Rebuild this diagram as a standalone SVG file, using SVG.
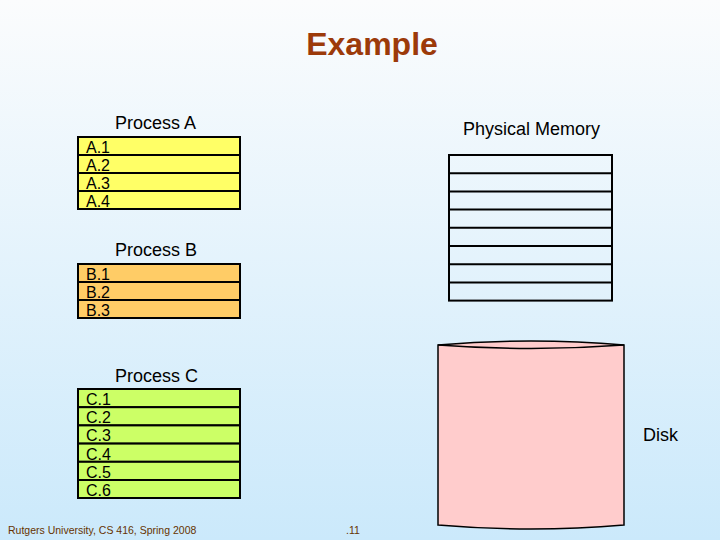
<svg xmlns="http://www.w3.org/2000/svg" width="720" height="540" viewBox="0 0 720 540">
<defs>
<linearGradient id="bg" x1="0" y1="0" x2="0" y2="1">
<stop offset="0" stop-color="#fbfcfd"/>
<stop offset="1" stop-color="#cbe9fb"/>
</linearGradient>
<style>
.row{stroke:#000;stroke-width:2}
.a{fill:#ffff66}
.b{fill:#ffcc66}
.c{fill:#ccff66}
.m{fill:none}
.lbl{font-family:"Liberation Sans",Arial,sans-serif;font-size:16px;fill:#000}
.hd{font-family:"Liberation Sans",Arial,sans-serif;font-size:18px;fill:#000}
.ft{font-family:"Liberation Sans",Arial,sans-serif;font-size:10.5px;fill:#663300}
</style>
</defs>
<rect width="720" height="540" fill="url(#bg)"/>
<text x="372" y="55" text-anchor="middle" font-family="Liberation Sans,Arial,sans-serif" font-size="32" font-weight="bold" fill="#9c3a0a">Example</text>

<g id="processA">
<text class="hd" x="115" y="129">Process A</text>
<rect class="row a" x="78" y="137" width="162" height="18"/>
<rect class="row a" x="78" y="155" width="162" height="18"/>
<rect class="row a" x="78" y="173" width="162" height="18"/>
<rect class="row a" x="78" y="191" width="162" height="18"/>
<text class="lbl" x="86" y="153">A.1</text>
<text class="lbl" x="86" y="171">A.2</text>
<text class="lbl" x="86" y="189">A.3</text>
<text class="lbl" x="86" y="207">A.4</text>
</g>

<g id="processB">
<text class="hd" x="115" y="256">Process B</text>
<rect class="row b" x="78" y="264" width="162" height="18"/>
<rect class="row b" x="78" y="282" width="162" height="18"/>
<rect class="row b" x="78" y="300" width="162" height="18"/>
<text class="lbl" x="86" y="280">B.1</text>
<text class="lbl" x="86" y="298">B.2</text>
<text class="lbl" x="86" y="316">B.3</text>
</g>

<g id="processC">
<text class="hd" x="115" y="382">Process C</text>
<rect class="row c" x="78" y="389" width="162" height="18.2"/>
<rect class="row c" x="78" y="407.2" width="162" height="18.2"/>
<rect class="row c" x="78" y="425.4" width="162" height="18.2"/>
<rect class="row c" x="78" y="443.6" width="162" height="18.2"/>
<rect class="row c" x="78" y="461.8" width="162" height="18.2"/>
<rect class="row c" x="78" y="480" width="162" height="18"/>
<text class="lbl" x="86" y="405">C.1</text>
<text class="lbl" x="86" y="423">C.2</text>
<text class="lbl" x="86" y="441">C.3</text>
<text class="lbl" x="86" y="460">C.4</text>
<text class="lbl" x="86" y="478">C.5</text>
<text class="lbl" x="86" y="496">C.6</text>
</g>

<g id="physicalMemory">
<text class="hd" x="463" y="135">Physical Memory</text>
<rect class="row m" x="449" y="155" width="163" height="145.6"/>
<line class="row" x1="449" y1="173.2" x2="612" y2="173.2"/>
<line class="row" x1="449" y1="191.4" x2="612" y2="191.4"/>
<line class="row" x1="449" y1="209.6" x2="612" y2="209.6"/>
<line class="row" x1="449" y1="227.8" x2="612" y2="227.8"/>
<line class="row" x1="449" y1="246" x2="612" y2="246"/>
<line class="row" x1="449" y1="264.2" x2="612" y2="264.2"/>
<line class="row" x1="449" y1="282.4" x2="612" y2="282.4"/>
</g>

<g id="disk">
<path d="M438,345 Q531,337 624,345 L624,525 Q531,533 438,525 Z" fill="#ffcccc" stroke="#000" stroke-width="1.5"/>
<path d="M438,345 Q531,352 624,345" fill="none" stroke="#000" stroke-width="1.5"/>
<text class="hd" x="643" y="441">Disk</text>
</g>

<g id="connectors"/>

<text class="ft" x="8" y="534">Rutgers University, CS 416, Spring 2008</text>
<text class="ft" x="346" y="534">.11</text>
</svg>
